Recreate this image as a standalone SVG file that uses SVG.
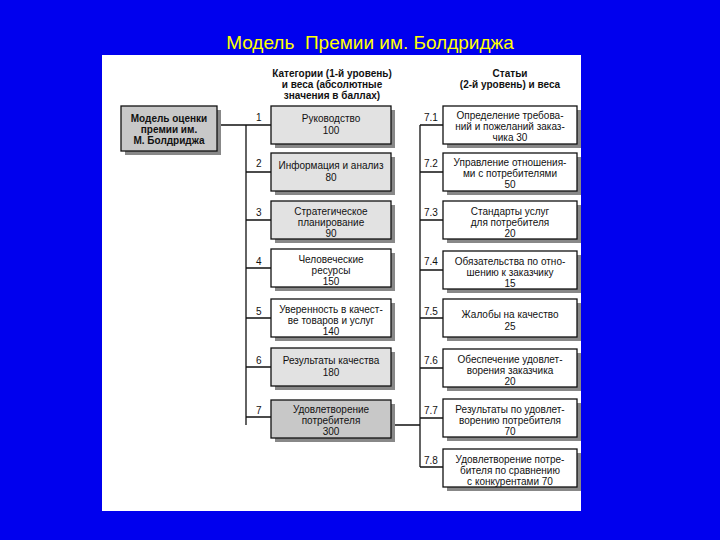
<svg xmlns="http://www.w3.org/2000/svg" width="720" height="540" viewBox="0 0 720 540">
<style>
text{font-family:"Liberation Sans",Arial,sans-serif;font-size:10px;fill:#111;text-anchor:middle}
.b{stroke:#111;stroke-width:1.3}
.sh{fill:#888}
.w{fill:#fff}.g{fill:#e2e2e2}.d{fill:#c8c8c8}
.n{text-anchor:start;font-size:10px}
.h{font-weight:bold;font-size:10px}
#conn path{stroke:#111;stroke-width:1.3;fill:none}
</style>
<rect width="720" height="540" fill="#0000ee"/>
<text x="370" y="49" xml:space="preserve" style="font-size:19px;fill:#ffff00;text-anchor:middle">Модель  Премии им. Болдриджа</text>
<rect x="102" y="55" width="479" height="456" fill="#fff"/>
<text class="h" x="332" y="77">Категории (1-й уровень)</text>
<text class="h" x="332" y="88">и веса (абсолютные</text>
<text class="h" x="332" y="99">значения в баллах)</text>
<text class="h" x="510" y="77">Статьи</text>
<text class="h" x="510" y="88">(2-й уровень) и веса</text>
<g id="conn">
<path d="M218 125H246M246 125V425M246 125H271M246 172H271M246 220H271M246 268H271M246 318H271M246 367H271M246 417H271"/>
<path d="M391 425H420M420 125V467M420 125H443M420 172H443M420 220H443M420 270H443M420 318H443M420 368H443M420 418H443M420 467H443"/>
</g>
<g id="labels" class="n">
<text class="n" x="256" y="121">1</text><text class="n" x="256" y="167">2</text><text class="n" x="256" y="216">3</text>
<text class="n" x="256" y="265">4</text><text class="n" x="256" y="315">5</text><text class="n" x="256" y="364">6</text><text class="n" x="256" y="414">7</text>
<text class="n" x="424" y="121">7.1</text><text class="n" x="424" y="167">7.2</text><text class="n" x="424" y="216">7.3</text><text class="n" x="424" y="265">7.4</text>
<text class="n" x="424" y="315">7.5</text><text class="n" x="424" y="364">7.6</text><text class="n" x="424" y="414">7.7</text><text class="n" x="424" y="464">7.8</text>
</g>
<g id="root"><rect class="sh" x="125" y="110" width="96" height="45"/><rect class="b d" x="121" y="106" width="96" height="45"/>
<text class="h" x="169" y="122">Модель оценки</text><text class="h" x="169" y="133">премии им.</text><text class="h" x="169" y="144">М. Болдриджа</text></g>
<g id="c1"><rect class="sh" x="275" y="110" width="120" height="38"/><rect class="b g" x="271" y="106" width="120" height="38"/><text x="331" y="122">Руководство</text><text x="331" y="134">100</text></g>
<g id="c2"><rect class="sh" x="275" y="157" width="120" height="38"/><rect class="b g" x="271" y="153" width="120" height="38"/><text x="331" y="169">Информация и анализ</text><text x="331" y="181">80</text></g>
<g id="c3"><rect class="sh" x="275" y="205" width="120" height="38"/><rect class="b g" x="271" y="201" width="120" height="38"/><text x="331" y="215">Стратегическое</text><text x="331" y="226">планирование</text><text x="331" y="237">90</text></g>
<g id="c4"><rect class="sh" x="275" y="253" width="120" height="38"/><rect class="b w" x="271" y="249" width="120" height="38"/><text x="331" y="263">Человеческие</text><text x="331" y="274">ресурсы</text><text x="331" y="285">150</text></g>
<g id="c5"><rect class="sh" x="275" y="303" width="120" height="38"/><rect class="b w" x="271" y="299" width="120" height="38"/><text x="331" y="313">Уверенность в качест-</text><text x="331" y="324">ве товаров и услуг</text><text x="331" y="335">140</text></g>
<g id="c6"><rect class="sh" x="275" y="352" width="120" height="38"/><rect class="b g" x="271" y="348" width="120" height="38"/><text x="331" y="364">Результаты качества</text><text x="331" y="376">180</text></g>
<g id="c7"><rect class="sh" x="275" y="404" width="120" height="38"/><rect class="b d" x="271" y="400" width="120" height="38"/><text x="331" y="413">Удовлетворение</text><text x="331" y="424">потребителя</text><text x="331" y="435">300</text></g>
<g id="s1"><rect class="sh" x="447" y="110" width="134" height="38"/><rect class="b w" x="443" y="106" width="134" height="38"/><text x="510" y="119">Определение требова-</text><text x="510" y="130">ний и пожеланий заказ-</text><text x="510" y="141">чика 30</text></g>
<g id="s2"><rect class="sh" x="447" y="157" width="134" height="38"/><rect class="b w" x="443" y="153" width="134" height="38"/><text x="510" y="166">Управление отношения-</text><text x="510" y="177">ми с потребителями</text><text x="510" y="188">50</text></g>
<g id="s3"><rect class="sh" x="447" y="205" width="134" height="38"/><rect class="b w" x="443" y="201" width="134" height="38"/><text x="510" y="215">Стандарты услуг</text><text x="510" y="226">для потребителя</text><text x="510" y="237">20</text></g>
<g id="s4"><rect class="sh" x="447" y="255" width="134" height="38"/><rect class="b w" x="443" y="251" width="134" height="38"/><text x="510" y="265">Обязательства по отно-</text><text x="510" y="276">шению к заказчику</text><text x="510" y="287">15</text></g>
<g id="s5"><rect class="sh" x="447" y="303" width="134" height="38"/><rect class="b w" x="443" y="299" width="134" height="38"/><text x="510" y="318">Жалобы на качество</text><text x="510" y="330">25</text></g>
<g id="s6"><rect class="sh" x="447" y="353" width="134" height="38"/><rect class="b w" x="443" y="349" width="134" height="38"/><text x="510" y="363">Обеспечение удовлет-</text><text x="510" y="374">ворения заказчика</text><text x="510" y="385">20</text></g>
<g id="s7"><rect class="sh" x="447" y="403" width="134" height="38"/><rect class="b w" x="443" y="399" width="134" height="38"/><text x="510" y="413">Результаты по удовлет-</text><text x="510" y="424">ворению потребителя</text><text x="510" y="435">70</text></g>
<g id="s8"><rect class="sh" x="447" y="453" width="134" height="38"/><rect class="b w" x="443" y="449" width="134" height="38"/><text x="510" y="463">Удовлетворение потре-</text><text x="510" y="474">бителя по сравнению</text><text x="510" y="485">с конкурентами 70</text></g>
</svg>
